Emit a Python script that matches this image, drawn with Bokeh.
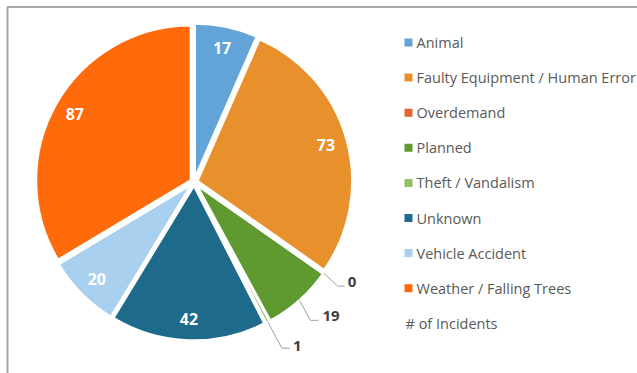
import math
from bokeh.plotting import figure
from bokeh.models import Range1d, ColumnDataSource
from bokeh.core.properties import value
from bokeh.embed import file_html
from bokeh.resources import INLINE

# ---- data ----
categories = ["Animal", "Faulty Equipment / Human Error", "Overdemand", "Planned",
              "Theft / Vandalism", "Unknown", "Vehicle Accident", "Weather / Falling Trees"]
incidents = [17, 73, 0, 19, 1, 42, 20, 87]
colors = ["#62A4D8", "#E8912C", "#E0662A", "#5E9A30", "#93C060", "#1E6A8A", "#A9D0EE", "#FF6A0A"]
series_name = "# of Incidents"

W, H = 637, 373
p = figure(width=W, height=H, output_backend="svg", toolbar_location=None,
           x_range=Range1d(0, W), y_range=Range1d(0, H),
           x_axis_location=None, y_axis_location=None, min_border=0,
           background_fill_color="white", border_fill_color="white")
p.grid.visible = False
p.outline_line_color = None

def Y(ypx):
    return H - ypx

# frame
p.line([7, 7, W + 5], [Y(H + 5), Y(6.5), Y(6.5)], line_color="#A6A6A6", line_width=2)

# pie geometry
cx, cy = 193.5, Y(181.5)
R = 155
explode = 3.5
total = sum(incidents)

starts, ends, xs, ys, mids, wcol = [], [], [], [], [], []
acc = 0.0
for v, c in zip(incidents, colors):
    a0 = acc / total * 2 * math.pi
    acc += v
    a1 = acc / total * 2 * math.pi
    mid = (a0 + a1) / 2
    mids.append(mid)
    if v <= 0:
        continue
    starts.append(math.pi / 2 - a1)
    ends.append(math.pi / 2 - a0)
    xs.append(cx + explode * math.sin(mid))
    ys.append(cy + explode * math.cos(mid))
    wcol.append(c)

src = ColumnDataSource(dict(x=xs, y=ys, start=starts, end=ends, color=wcol))
p.wedge(x="x", y="y", radius=R, start_angle="start", end_angle="end",
        direction="anticlock", fill_color="color", line_color="white", line_width=2.5,
        source=src)

# outside labels with leader lines (small slices)
out_offsets = {2: ((14, 13), (21, 13), (24, 9)),
               3: ((11, 20), (19, 20), (23, 16)),
               4: ((14, 26), (22, 26), (25, 24))}

# inside labels
lr = 137
in_x, in_y, in_t = [], [], []
for i, (v, m) in enumerate(zip(incidents, mids)):
    if i not in out_offsets:
        in_x.append(cx + lr * math.sin(m))
        in_y.append(cy + lr * math.cos(m))
        in_t.append(str(v))
p.text(in_x, in_y, text=in_t, text_color="white", text_font=value("Open Sans"),
       text_font_style="bold", text_font_size="16px", text_align="center",
       text_baseline="middle")

for i, (b1, b2, t) in out_offsets.items():
    m = mids[i]
    ex = cx + (R + explode) * math.sin(m)
    ey = cy + (R + explode) * math.cos(m)
    p.line([ex, ex + b1[0], ex + b2[0]], [ey, ey - b1[1], ey - b2[1]],
           line_color="#A0A0A0", line_width=1)
    p.text([ex + t[0]], [ey - t[1]], text=[str(incidents[i])], text_color="#404040",
           text_font=value("Open Sans"), text_font_style="bold", text_font_size="15px",
           text_align="left", text_baseline="middle")

# legend
lx_marker, lx_text = 408, 416
row0, dy = 42, 35.1
ly = [Y(row0 + dy * i) for i in range(len(categories))]
p.scatter([lx_marker] * len(categories), ly, marker="square", size=8,
          fill_color=colors, line_color=None)
p.text([lx_text] * len(categories), ly, text=categories, text_color="#595959",
       text_font=value("Open Sans"), text_font_size="14.5px", text_baseline="middle",
       text_align="left")
p.text([lx_marker - 3], [Y(row0 + dy * len(categories))], text=[series_name],
       text_color="#595959", text_font=value("Open Sans"), text_font_size="14.5px",
       text_baseline="middle", text_align="left")

open("out.html", "w").write(file_html(p, INLINE))
